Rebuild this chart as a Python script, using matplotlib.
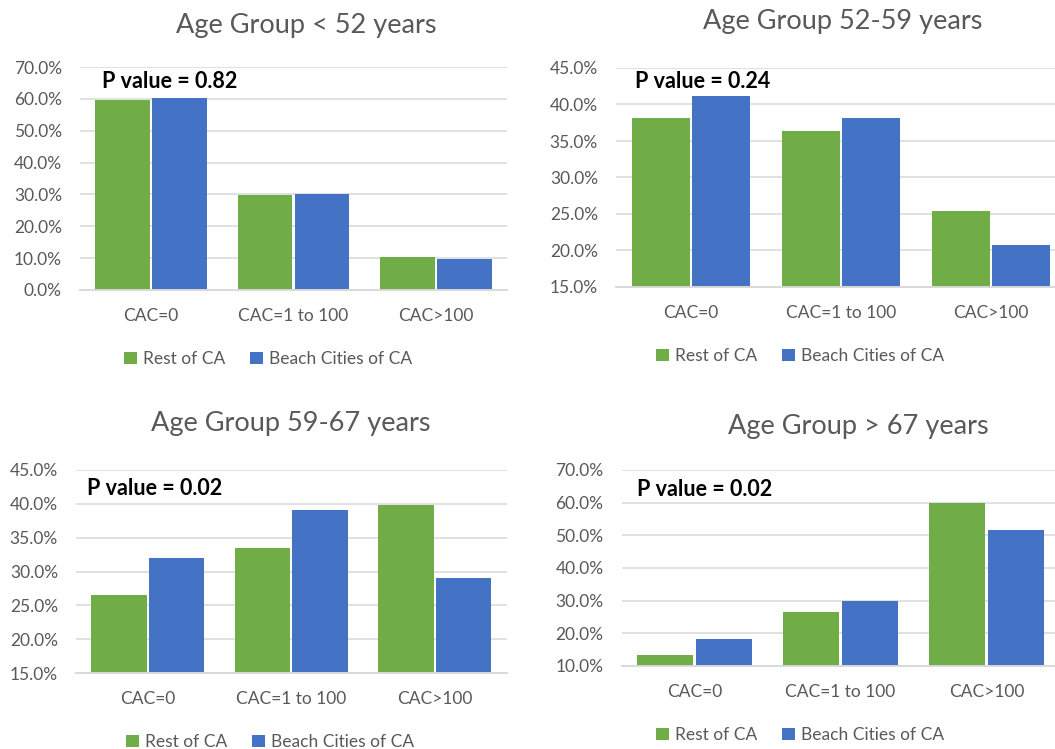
import matplotlib
matplotlib.use("Agg")
import matplotlib.pyplot as plt
from matplotlib.patches import Patch
from matplotlib.ticker import FuncFormatter, MultipleLocator
import numpy as np

plt.rcParams['font.family'] = ['Lato', 'DejaVu Sans']

categories = ["CAC=0", "CAC=1 to 100", "CAC>100"]
series_names = ["Rest of CA", "Beach Cities of CA"]

titles = ["Age Group < 52 years", "Age Group 52-59 years",
          "Age Group 59-67 years", "Age Group > 67 years"]
p_values = ["P value = 0.82", "P value = 0.24", "P value = 0.02", "P value = 0.02"]

rest_lt52 = [59.6, 29.8, 10.4]
beach_lt52 = [60.3, 30.0, 9.7]
rest_52_59 = [38.1, 36.4, 25.4]
beach_52_59 = [41.2, 38.2, 20.7]
rest_59_67 = [26.6, 33.5, 39.9]
beach_59_67 = [32.0, 39.1, 29.0]
rest_gt67 = [13.5, 26.5, 59.9]
beach_gt67 = [18.2, 30.0, 51.5]

y_ranges = [(0, 70, 10), (15, 45, 5), (15, 45, 5), (10, 70, 10)]

GREEN = "#70AD47"
BLUE = "#4472C4"
TXT = "#595959"
GRID = "#D9D9D9"

W, H = 1055, 749
fig = plt.figure(figsize=(W / 100, H / 100), dpi=100)

def fx(x):
    return x / W

def fy(y):
    return 1 - y / H

# panel layout in pixels: left, right, top, bottom
boxes = [(80, 507, 67, 290), (616, 1066, 68, 287),
         (76, 506.5, 470, 673), (621.5, 1059.5, 470, 666)]
title_pos = [(306, 25), (843, 22), (291, 424), (858, 426)]
pval_pos = [(102, 82), (635, 82), (87, 488), (637, 490)]
legend_pos = [(268, 359), (800, 356), (270, 742), (800, 735)]

data = [(rest_lt52, beach_lt52), (rest_52_59, beach_52_59),
        (rest_59_67, beach_59_67), (rest_gt67, beach_gt67)]

x = np.arange(len(categories))
bw = 0.385
for i in range(4):
    l, r, t, b = boxes[i]
    ax = fig.add_axes([fx(l), fy(b), fx(r - l), (b - t) / H])
    rest, beach = data[i]
    ax.bar(x - 0.2, rest, bw, color=GREEN, zorder=3)
    ax.bar(x + 0.2, beach, bw, color=BLUE, zorder=3)
    lo, hi, step = y_ranges[i]
    ax.set_ylim(lo, hi)
    ax.set_xlim(-0.5, 2.5)
    ax.yaxis.set_major_locator(MultipleLocator(step))
    ax.yaxis.set_major_formatter(FuncFormatter(lambda v, p: f"{v:.1f}%"))
    ax.set_xticks(x)
    ax.set_xticklabels(categories)
    ax.grid(axis='y', color=GRID, linewidth=1.1, zorder=0)
    for s in ['top', 'right', 'left']:
        ax.spines[s].set_visible(False)
    ax.spines['bottom'].set_color(GRID)
    ax.spines['bottom'].set_linewidth(1.4)
    ax.spines['bottom'].set_zorder(4)
    ax.tick_params(axis='both', length=0, labelsize=12.5, colors=TXT)
    ax.tick_params(axis='y', pad=13)
    ax.tick_params(axis='x', pad=13)
    ax.set_facecolor('none')

    tx, ty = title_pos[i]
    fig.text(fx(tx), fy(ty), titles[i], ha='center', va='center',
             fontsize=19.5, color=TXT)
    px, py = pval_pos[i]
    fig.text(fx(px), fy(py), p_values[i], ha='left', va='center',
             fontsize=15.5, fontweight='bold', color='black')

    handles = [Patch(facecolor=GREEN, edgecolor='none'),
               Patch(facecolor=BLUE, edgecolor='none')]
    lx, ly = legend_pos[i]
    leg = fig.legend(handles, series_names, loc='center',
                     bbox_to_anchor=(fx(lx), fy(ly)), ncol=2, frameon=False,
                     fontsize=12.5, handlelength=0.75, handleheight=0.75,
                     handletextpad=0.35, columnspacing=1.4,
                     borderaxespad=0, borderpad=0)
    for txt in leg.get_texts():
        txt.set_color(TXT)

fig.savefig("out.png", dpi=100)
